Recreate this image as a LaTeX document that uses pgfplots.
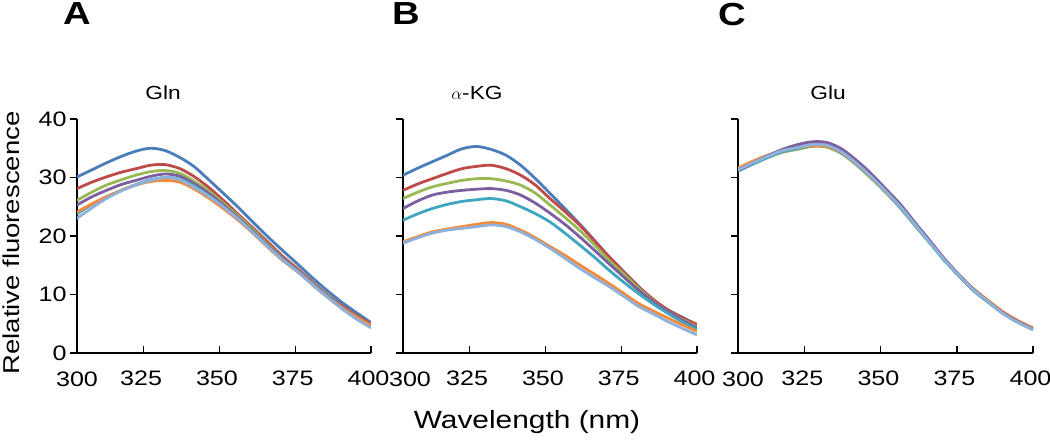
\documentclass[border=0pt]{standalone}
\usepackage{fontspec}
\setmainfont{Liberation Sans}[FakeStretch=1.2]
\usepackage{pgfplots}
\pgfplotsset{compat=1.18}
\usepackage{pgfplotstable}

\definecolor{cb}{HTML}{4A7EBB}
\definecolor{cr}{HTML}{BE4B48}
\definecolor{cg}{HTML}{98B954}
\definecolor{cp}{HTML}{7D5FA0}
\definecolor{ct}{HTML}{3FA6BF}
\definecolor{co}{HTML}{F38B3A}
\definecolor{cl}{HTML}{90B0DC}

\pgfplotstableread{
x b r g p t o l
303.0 30.1 28.1 26.1 25.3 23.8 24.1 23.0
307.9 31.3 29.2 27.5 26.7 25.4 25.5 24.8
312.7 32.5 30.1 28.7 27.8 26.7 26.7 26.4
317.6 33.6 30.9 29.6 28.8 27.8 27.8 27.7
322.4 34.5 31.5 30.4 29.5 28.8 28.7 28.7
327.3 35.0 32.1 31.0 30.2 29.6 29.3 29.5
332.1 34.6 32.2 31.2 30.6 30.0 29.5 30.0
337.0 33.4 31.5 30.7 30.2 29.7 29.2 29.6
341.8 31.8 30.1 29.3 28.9 28.5 28.0 28.3
346.7 29.5 28.2 27.6 27.2 26.8 26.4 26.7
351.5 27.2 26.0 25.5 25.2 24.9 24.6 24.9
356.4 24.8 23.6 23.3 23.0 22.8 22.6 22.8
361.2 22.3 21.3 21.0 20.7 20.5 20.4 20.5
366.1 19.8 18.9 18.5 18.3 18.1 18.0 18.1
370.9 17.5 16.5 16.2 16.1 15.9 15.8 15.9
375.8 15.2 14.4 14.2 14.1 13.9 13.9 13.9
380.6 12.9 12.2 12.0 11.9 11.8 11.7 11.7
385.5 10.7 10.0 9.9 9.8 9.7 9.6 9.6
390.3 8.7 8.1 7.9 7.9 7.8 7.8 7.6
395.2 6.9 6.4 6.2 6.1 6.0 6.1 5.8
400.0 5.2 4.9 4.7 4.6 4.5 4.7 4.3
}\tA

\pgfplotstableread{
x b r g p t o l
303.0 30.4 27.8 26.4 24.7 22.7 19.0 18.75
307.9 31.6 28.9 27.5 26.0 23.8 19.9 19.7
312.7 32.7 29.8 28.4 27.0 24.7 20.7 20.5
317.6 33.8 30.7 29.0 27.5 25.4 21.2 21.0
322.4 34.9 31.5 29.5 27.8 25.9 21.6 21.3
327.3 35.3 31.9 29.8 28.0 26.2 22.0 21.6
332.1 34.8 32.1 29.8 28.1 26.4 22.3 21.9
337.0 33.8 31.5 29.4 27.8 26.0 22.0 21.6
341.8 32.1 30.4 28.7 27.0 25.0 21.0 20.7
346.7 29.8 28.7 27.3 25.6 23.8 19.7 19.4
351.5 27.3 26.4 25.3 23.9 22.4 18.2 17.9
356.4 24.7 24.2 23.2 22.0 20.5 16.7 16.2
361.2 22.1 21.9 21.0 19.9 18.5 15.1 14.5
366.1 19.3 19.2 18.5 17.6 16.4 13.5 12.9
370.9 16.5 16.5 15.9 15.3 14.2 11.9 11.4
375.8 13.9 13.9 13.5 13.0 12.1 10.2 9.7
380.6 11.4 11.4 11.1 10.8 10.2 8.5 8.0
385.5 9.1 9.2 8.9 8.8 8.4 7.2 6.7
390.3 7.4 7.4 7.1 7.1 6.8 6.0 5.4
395.2 6.1 6.0 5.7 5.6 5.3 4.8 4.2
400.0 4.8 4.9 4.5 4.3 4.0 3.7 3.1
}\tB

\pgfplotstableread{
x b r g p t o l
303.0 31.3 31.2 31.2 31.2 31.1 31.6 31.3
307.9 32.5 32.4 32.3 32.5 32.3 32.8 32.5
312.7 33.6 33.5 33.4 33.7 33.4 33.8 33.6
317.6 34.6 34.5 34.3 34.8 34.4 34.6 34.6
322.4 35.1 35.0 34.8 35.6 34.9 35.1 35.1
327.3 35.6 35.5 35.3 36.1 35.4 35.4 35.6
332.1 35.5 35.4 35.2 36.0 35.3 35.3 35.5
337.0 34.4 34.3 34.1 34.9 34.2 34.3 34.4
341.8 32.5 32.4 32.2 33.0 32.3 32.4 32.5
346.7 30.2 30.1 29.9 30.7 30.0 30.1 30.2
351.5 27.7 27.6 27.5 28.1 27.5 27.6 27.7
356.4 25.0 24.9 24.8 25.4 24.8 25.0 25.0
361.2 22.0 21.9 21.8 22.3 21.8 22.0 22.0
366.1 18.9 18.9 18.8 19.2 18.8 19.0 18.9
370.9 15.9 15.9 15.8 16.1 15.8 16.0 15.9
375.8 13.2 13.2 13.1 13.3 13.1 13.3 13.2
380.6 10.7 10.7 10.6 10.8 10.6 10.9 10.7
385.5 8.7 8.7 8.6 8.7 8.6 8.9 8.7
390.3 6.8 6.8 6.7 6.8 6.7 7.0 6.7
395.2 5.3 5.3 5.2 5.3 5.2 5.5 5.2
400.0 4.1 4.1 4.0 4.1 4.0 4.3 4.0
}\tC

\pgfplotsset{
  panel/.style={
    scale only axis, width=294bp, height=234bp, anchor=south west,
    xmin=303, xmax=400, ymin=0, ymax=40,
    axis lines=left, axis line style={-, line width=1.1bp, black},
    xtick={325,350,375,400}, ytick={0,10,...,40},
    tick align=outside, major tick length=7bp,
    tick style={line width=1.1bp, black},
    xtick style={yshift=7bp},
    every tick label/.append style={font=\fontsize{21}{24}\selectfont},
    xticklabel style={yshift=-7bp, xshift=-2.5bp},
    /pgf/number format/assume math mode=true,
    /pgf/number format/1000 sep={},
    clip mode=individual,
    every axis plot/.append style={line width=2.8bp, smooth, no markers},
  },
}

\begin{document}
\begin{tikzpicture}
\useasboundingbox (0,0) rectangle (1050bp,443bp);

\begin{axis}[panel, at={(77bp,90bp)}]
\addplot[cb] table[x=x,y=b]{\tA};
\addplot[cr] table[x=x,y=r]{\tA};
\addplot[cg] table[x=x,y=g]{\tA};
\addplot[cp] table[x=x,y=p]{\tA};
\addplot[ct] table[x=x,y=t]{\tA};
\addplot[co] table[x=x,y=o]{\tA};
\addplot[cl] table[x=x,y=l]{\tA};
\node[font=\fontsize{21}{24}\selectfont] at (rel axis cs:0,0) [yshift=-26bp] {300};
\end{axis}

\begin{axis}[panel, at={(403bp,90bp)}, yticklabels={}]
\addplot[cb] table[x=x,y=b]{\tB};
\addplot[cr] table[x=x,y=r]{\tB};
\addplot[cg] table[x=x,y=g]{\tB};
\addplot[cp] table[x=x,y=p]{\tB};
\addplot[ct] table[x=x,y=t]{\tB};
\addplot[co] table[x=x,y=o]{\tB};
\addplot[cl] table[x=x,y=l]{\tB};
\node[font=\fontsize{21}{24}\selectfont] at (rel axis cs:0,0) [xshift=7bp, yshift=-26bp] {300};
\end{axis}

\begin{axis}[panel, at={(738bp,90bp)}, width=295bp, yticklabels={}]
\addplot[cb] table[x=x,y=b]{\tC};
\addplot[cr] table[x=x,y=r]{\tC};
\addplot[cg] table[x=x,y=g]{\tC};
\addplot[ct] table[x=x,y=t]{\tC};
\addplot[co] table[x=x,y=o]{\tC};
\addplot[cp] table[x=x,y=p]{\tC};
\addplot[cl] table[x=x,y=l]{\tC};
\node[font=\fontsize{21}{24}\selectfont] at (rel axis cs:0,0) [xshift=5bp, yshift=-26bp] {300};
\end{axis}

\node[font=\fontsize{19}{22}\selectfont] at (163bp,350bp) {Gln};
\node[font=\fontsize{19}{22}\selectfont] at (477bp,350bp) {$\alpha$-KG};
\node[font=\fontsize{19}{22}\selectfont] at (828bp,350bp) {Glu};

\node[font=\bfseries\fontsize{32}{36}\selectfont] at (77bp,429bp) {A};
\node[font=\bfseries\fontsize{32}{36}\selectfont] at (406bp,429bp) {B};
\node[font=\bfseries\fontsize{32}{36}\selectfont] at (732bp,428bp) {C};

\node[font=\fontsize{25}{28}\selectfont] at (527bp,21bp) {Wavelength (nm)};
\node[font=\fontsize{23}{26}\selectfont, rotate=90] at (11bp,200bp) {Relative fluorescence};
\end{tikzpicture}
\end{document}
